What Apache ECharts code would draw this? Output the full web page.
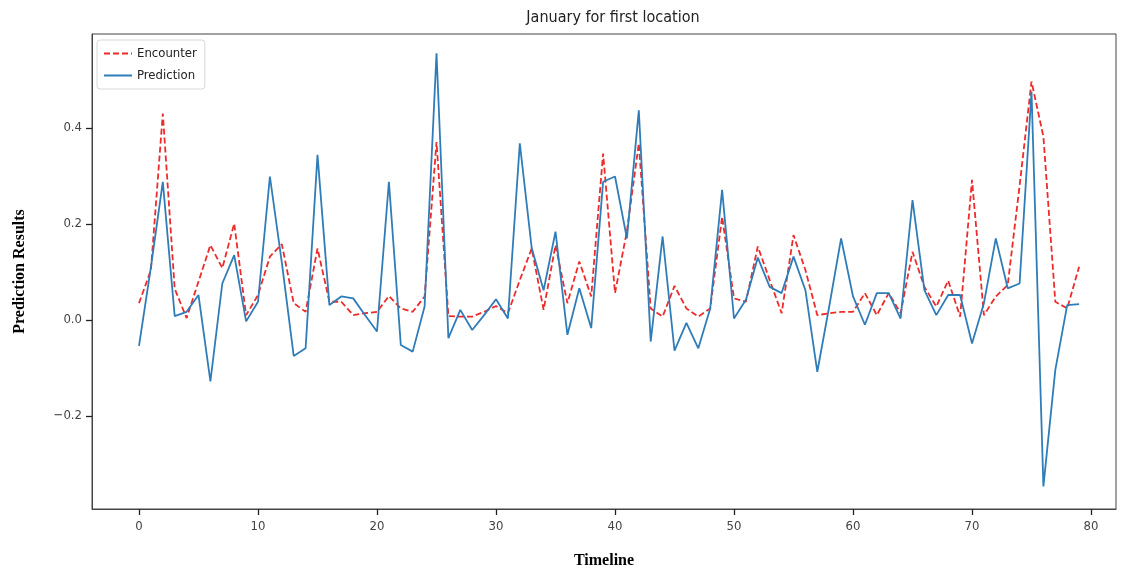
<!DOCTYPE html>
<html>
<head>
<meta charset="utf-8">
<script src="https://cdn.jsdelivr.net/npm/echarts@6/dist/echarts.min.js"></script>
<style>html,body{margin:0;padding:0;background:#fff}#c{width:1123px;height:570px}</style>
</head>
<body>
<div id="c"></div>
<script>
const titleText = "January for first location";
const xName = "Timeline";
const yName = "Prediction Results";
const seriesNames = ["Encounter", "Prediction"];
const xTicks = [0, 10, 20, 30, 40, 50, 60, 70, 80];
const yTicks = [-0.2, 0.0, 0.2, 0.4];
const encounter = [
  0.035, 0.104, 0.43, 0.065, 0.004, 0.08, 0.156, 0.108, 0.201, 0.01,
  0.052, 0.132, 0.158, 0.035, 0.017, 0.149, 0.038, 0.038, 0.01, 0.014,
  0.017, 0.05, 0.024, 0.017, 0.049, 0.371, 0.008, 0.007, 0.007, 0.017,
  0.029, 0.014, 0.083, 0.149, 0.021, 0.156, 0.035, 0.122, 0.049, 0.347,
  0.056, 0.185, 0.368, 0.024, 0.007, 0.071, 0.024, 0.007, 0.024, 0.215,
  0.045, 0.038, 0.153, 0.083, 0.014, 0.177, 0.104, 0.01, 0.014, 0.017,
  0.017, 0.056, 0.01, 0.056, 0.014, 0.142, 0.069, 0.028, 0.082, 0.007,
  0.292, 0.01, 0.049, 0.073, 0.28, 0.497, 0.382, 0.038, 0.024, 0.111
];
const prediction = [
  -0.054, 0.11, 0.288, 0.008, 0.017, 0.052, -0.128, 0.076, 0.135, -0.003,
  0.038, 0.299, 0.12, -0.075, -0.059, 0.344, 0.031, 0.049, 0.045, 0.01,
  -0.024, 0.288, -0.052, -0.066, 0.028, 0.556, -0.038, 0.021, -0.021, 0.01,
  0.043, 0.003, 0.368, 0.15, 0.062, 0.184, -0.031, 0.066, -0.017, 0.288,
  0.299, 0.17, 0.437, -0.045, 0.174, -0.064, -0.006, -0.059, 0.024, 0.271,
  0.003, 0.042, 0.13, 0.069, 0.056, 0.132, 0.062, -0.108, 0.028, 0.17,
  0.049, -0.01, 0.056, 0.056, 0.003, 0.25, 0.062, 0.01, 0.052, 0.052,
  -0.049, 0.035, 0.17, 0.066, 0.076, 0.476, -0.347, -0.104, 0.031, 0.033
];

const chart = echarts.init(document.getElementById('c'), null, {renderer: 'canvas'});
const condensed = '"DejaVu Sans Condensed", "Liberation Sans Narrow", "DejaVu Sans", sans-serif';
const serif = '"Liberation Serif", "DejaVu Serif", serif';
const toPairs = arr => arr.map((v, i) => [i, v]);

chart.setOption({
  animation: false,
  backgroundColor: '#ffffff',
  title: {
    text: titleText, left: 608, top: 5, textAlign: 'center',
    textStyle: {fontFamily: condensed, fontSize: 16, fontWeight: 'normal', color: '#222'}
  },
  legend: {
    orient: 'vertical', left: 97, top: 40,
    data: seriesNames,
    itemWidth: 28, itemHeight: 12, itemGap: 9,
    padding: [7, 8, 7, 6],
    borderColor: '#d8d8d8', borderWidth: 1, borderRadius: 3,
    backgroundColor: 'rgba(255,255,255,0.8)',
    itemStyle: {opacity: 0},
    textStyle: {fontFamily: condensed, fontSize: 13, color: '#222'}
  },
  grid: {
    left: 92, right: 7, top: 34, bottom: 61,
    outerBoundsMode: 'none', containLabel: false,
    show: true, borderColor: '#444', borderWidth: 1, backgroundColor: 'transparent'
  },
  xAxis: {
    type: 'value', min: -3.95, max: 82.1,
    name: xName, nameLocation: 'middle', nameGap: 44,
    nameTextStyle: {fontFamily: serif, fontSize: 16, fontWeight: 'bold', color: '#000'},
    axisLine: {show: true, onZero: false, lineStyle: {color: '#444'}},
    axisTick: {show: true, length: 6, customValues: xTicks, lineStyle: {color: '#222', width: 1.3}},
    axisLabel: {customValues: xTicks, fontFamily: condensed, fontSize: 13, color: '#444', margin: 11},
    splitLine: {show: false}
  },
  yAxis: {
    type: 'value', min: -0.394, max: 0.596,
    name: yName, nameLocation: 'middle', nameGap: 64, nameRotate: 90,
    nameTextStyle: {fontFamily: serif, fontSize: 16, fontWeight: 'bold', color: '#000'},
    axisLine: {show: true, onZero: false, lineStyle: {color: '#444'}},
    axisTick: {show: true, length: 6, customValues: yTicks, lineStyle: {color: '#222', width: 1.3}},
    axisLabel: {
      customValues: yTicks, fontFamily: condensed, fontSize: 13, color: '#444', margin: 10,
      formatter: v => (v < 0 ? '\u2212' : '') + Math.abs(v).toFixed(1)
    },
    splitLine: {show: false}
  },
  series: [
    {
      name: seriesNames[0], type: 'line', data: toPairs(encounter),
      symbol: 'none', z: 2,
      lineStyle: {color: '#ee2b2b', width: 1.8, type: [6, 3]},
      itemStyle: {color: '#ee2b2b'}
    },
    {
      name: seriesNames[1], type: 'line', data: toPairs(prediction),
      symbol: 'none', z: 3,
      lineStyle: {color: '#2f7db8', width: 1.8},
      itemStyle: {color: '#2f7db8'}
    }
  ]
});
</script>
</body>
</html>
